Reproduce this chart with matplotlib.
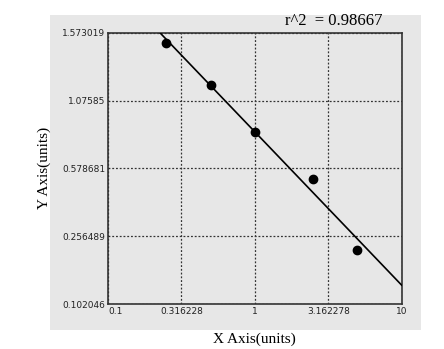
import numpy as np
import matplotlib
matplotlib.use('Agg')
import matplotlib.pyplot as plt
from matplotlib.patches import Rectangle

# standard points
x_vals = [0.25, 0.5, 1.0, 2.5, 5.0]
y_vals = [1.495, 1.190, 0.847, 0.529, 0.225]
x_ticks = [0.1, 0.316228, 1, 3.162278, 10]
x_labels = ['0.1', '0.316228', '1', '3.162278', '10']
y_ticks = [0.102046, 0.256489, 0.578681, 1.07585, 1.573019]
y_labels = ['0.102046', '0.256489', '0.578681', '1.07585', '1.573019']
r2_text = 'r^2  = 0.98667'

# y axis: tick values are spaced evenly, so map them piecewise onto 0..4
yt = np.array(y_ticks)
idx = np.arange(len(yt), dtype=float)

def fwd(y):
    y = np.asarray(y, dtype=float)
    out = np.interp(y, yt, idx)
    lo = y < yt[0]
    hi = y > yt[-1]
    out = np.where(lo, (y - yt[0]) / (yt[1] - yt[0]), out)
    out = np.where(hi, idx[-1] + (y - yt[-1]) / (yt[-1] - yt[-2]), out)
    return out

def inv(p):
    p = np.asarray(p, dtype=float)
    out = np.interp(p, idx, yt)
    out = np.where(p < 0, yt[0] + p * (yt[1] - yt[0]), out)
    out = np.where(p > idx[-1], yt[-1] + (p - idx[-1]) * (yt[-1] - yt[-2]), out)
    return out

fig = plt.figure(figsize=(4.44, 3.49), dpi=100)
fig.patch.set_facecolor('white')
gray = '#e7e7e7'
fig.patches.append(Rectangle((0.1126, 0.0544), 0.8356, 0.9026, transform=fig.transFigure,
                             facecolor=gray, edgecolor='none', zorder=-10))

ax = fig.add_axes([0.2432, 0.1289, 0.6615, 0.7774])
ax.set_zorder(1)
ax.set_facecolor(gray)
ax.set_xscale('log')
ax.set_yscale('function', functions=(fwd, inv))
ax.set_xlim(0.1, 10)
ax.set_ylim(y_ticks[0], y_ticks[-1])

# fit line in the displayed space
lx = np.log10(x_vals)
coef = np.polyfit(lx, fwd(y_vals), 1)
xs = np.logspace(-1, 1, 200)
ax.plot(xs, inv(np.polyval(coef, np.log10(xs))), color='black', lw=1.2, zorder=3)
ax.plot(x_vals, y_vals, 'o', color='black', markersize=6, zorder=4)

ax.set_xticks(x_ticks)
ax.set_xticklabels(x_labels)
ax.set_yticks(y_ticks)
ax.set_yticklabels(y_labels)
ax.xaxis.set_minor_locator(matplotlib.ticker.NullLocator())
ax.yaxis.set_minor_locator(matplotlib.ticker.NullLocator())
ax.tick_params(length=0, labelsize=6.5, pad=2, colors='#222222')
ax.get_xticklabels()[0].set_horizontalalignment('left')
ax.grid(True, color='#333333', linestyle=(0, (1.5, 1.5)), lw=0.9)
for s in ax.spines.values():
    s.set_color('#333333')
    s.set_linewidth(1.2)

ax.set_xlabel('X Axis(units)', family='Liberation Serif', fontsize=11, labelpad=12)
ax.set_ylabel('Y Axis(units)', family='Liberation Serif', fontsize=11, labelpad=8)
fig.text(0.862, 0.94, r2_text, family='Liberation Serif', fontsize=12,
         ha='right', va='center', zorder=5)

plt.savefig('out.png', dpi=100, facecolor=fig.get_facecolor())
